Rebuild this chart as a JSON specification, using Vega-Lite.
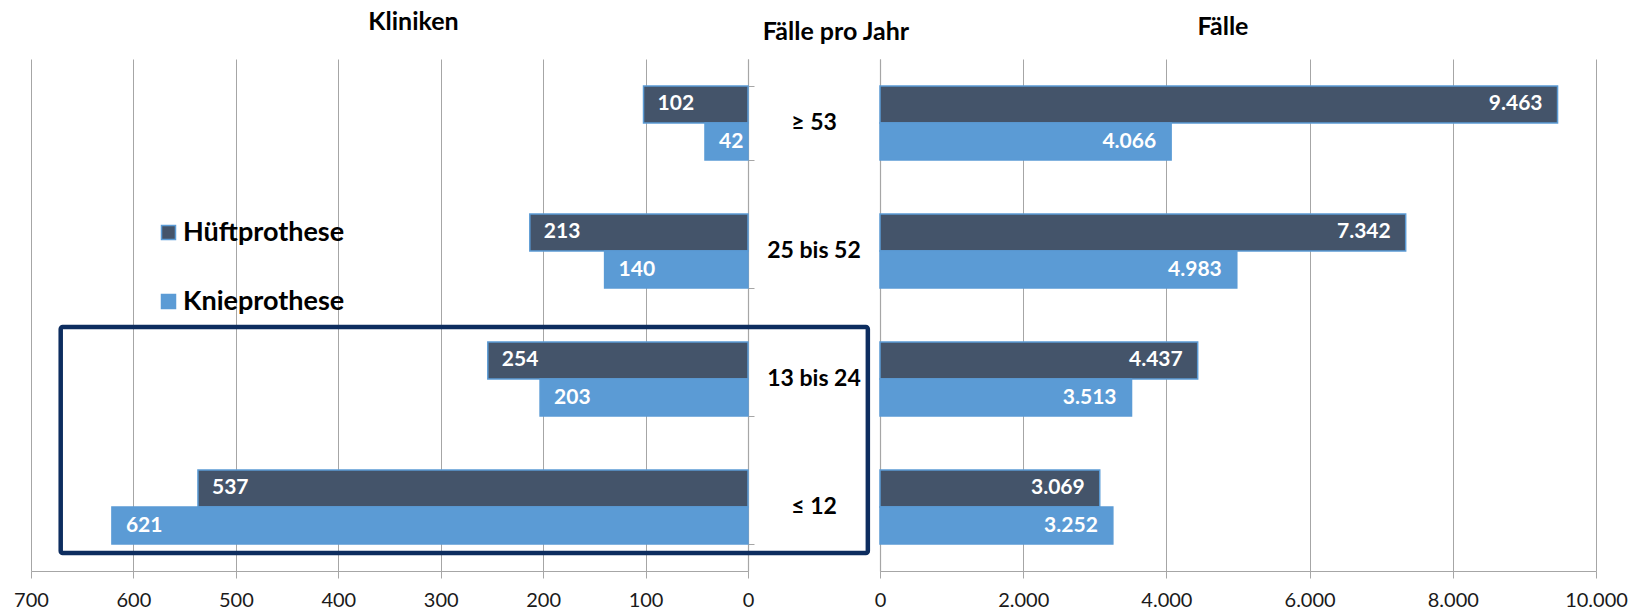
{
  "$schema": "https://vega.github.io/schema/vega-lite/v6.json",
  "padding": {"left": 13, "top": 10, "right": 5, "bottom": 5},
  "bounds": "flush",
  "spacing": 0,
  "config": {
    "locale": {"number": {"decimal": ",", "thousands": ".", "grouping": [3], "currency": ["", " €"]}},
    "font": "Lato",
    "view": {"stroke": null},
    "title": {"font": "Lato", "fontSize": 25, "fontWeight": "bold", "color": "#000000", "anchor": "middle"},
    "axisX": {
      "grid": true, "gridColor": "#a6a6a6", "gridWidth": 1,
      "domainColor": "#a6a6a6", "domainWidth": 1.2,
      "tickColor": "#a6a6a6", "tickSize": 7,
      "labelFont": "Lato", "labelFontSize": 20, "labelColor": "#1a1a1a", "labelPadding": 12,
      "labelFlush": false, "labelOverlap": false, "title": null
    }
  },
  "datasets": {
    "d": [
      {"gruppe": "≥ 53", "art": "Hüftprothese", "kliniken": 102, "faelle": 9463},
      {"gruppe": "≥ 53", "art": "Knieprothese", "kliniken": 42, "faelle": 4066},
      {"gruppe": "25 bis 52", "art": "Hüftprothese", "kliniken": 213, "faelle": 7342},
      {"gruppe": "25 bis 52", "art": "Knieprothese", "kliniken": 140, "faelle": 4983},
      {"gruppe": "13 bis 24", "art": "Hüftprothese", "kliniken": 254, "faelle": 4437},
      {"gruppe": "13 bis 24", "art": "Knieprothese", "kliniken": 203, "faelle": 3513},
      {"gruppe": "≤ 12", "art": "Hüftprothese", "kliniken": 537, "faelle": 3069},
      {"gruppe": "≤ 12", "art": "Knieprothese", "kliniken": 621, "faelle": 3252}
    ],
    "box": [{"von": "13 bis 24", "bis": "≤ 12"}]
  },
  "resolve": {"scale": {"color": "independent"}},
  "hconcat": [
    {
      "width": 717,
      "height": 512,
      "title": {"text": "Kliniken", "offset": 24, "dx": 24},
      "layer": [
        {
          "data": {"name": "d"},
          "mark": {"type": "bar", "stroke": "#5b9bd5", "strokeWidth": 1.5},
          "encoding": {
            "y": {
              "field": "gruppe", "type": "nominal",
              "scale": {"domain": ["≥ 53", "25 bis 52", "13 bis 24", "≤ 12"], "paddingInner": 0.42, "paddingOuter": 0.21},
              "axis": {"orient": "right", "labels": false, "title": null, "tickBand": "extent", "grid": false,
                       "domainColor": "#a6a6a6", "domainWidth": 1.2, "tickColor": "#a6a6a6", "tickSize": 6}
            },
            "yOffset": {"field": "art", "type": "nominal", "scale": {"domain": ["Hüftprothese", "Knieprothese"], "paddingInner": 0, "paddingOuter": 0}},
            "x": {
              "field": "kliniken", "type": "quantitative",
              "scale": {"domain": [0, 700], "reverse": true, "nice": false, "zero": true},
              "axis": {"values": [0, 100, 200, 300, 400, 500, 600, 700], "format": "d"}
            },
            "color": {
              "field": "art", "type": "nominal",
              "scale": {"domain": ["Hüftprothese", "Knieprothese"], "range": ["#44546a", "#5b9bd5"]},
              "legend": {
                "orient": "none", "legendX": 124, "legendY": 160, "title": null, "padding": 0,
                "symbolType": "square", "symbolSize": 196, "symbolStrokeColor": "#5b9bd5", "symbolStrokeWidth": 1.5,
                "labelFont": "Lato", "labelFontSize": 27, "labelFontWeight": "bold", "labelColor": "#000000",
                "labelOffset": 1, "labelLimit": 400, "rowPadding": 41
              }
            }
          }
        },
        {
          "data": {"name": "d"},
          "mark": {"type": "text", "align": "left", "baseline": "middle", "dx": 14, "color": "#ffffff", "fontWeight": "bold", "fontSize": 21, "font": "Lato"},
          "encoding": {
            "y": {"field": "gruppe", "type": "nominal"},
            "yOffset": {"field": "art", "type": "nominal"},
            "x": {"field": "kliniken", "type": "quantitative"},
            "text": {"field": "kliniken", "type": "quantitative", "format": ",d"}
          }
        },
        {
          "data": {"name": "box"},
          "mark": {"type": "rect", "filled": false, "stroke": "#0d2d5f", "strokeWidth": 4.5, "cornerRadius": 2},
          "encoding": {
            "y": {"field": "von", "type": "nominal", "bandPosition": -0.2},
            "y2": {"field": "bis", "bandPosition": 1.12},
            "x": {"datum": 671},
            "x2": {"datum": -117}
          }
        }
      ]
    },
    {
      "width": 132,
      "height": 512,
      "title": {"text": "Fälle pro Jahr", "offset": 14, "dx": 22},
      "data": {"name": "d"},
      "transform": [{"filter": "datum.art == 'Hüftprothese'"}],
      "mark": {"type": "text", "fontWeight": "bold", "fontSize": 23, "font": "Lato", "color": "#000000", "baseline": "middle"},
      "encoding": {
        "y": {
          "field": "gruppe", "type": "nominal",
          "scale": {"domain": ["≥ 53", "25 bis 52", "13 bis 24", "≤ 12"], "paddingInner": 0.42, "paddingOuter": 0.21},
          "axis": null
        },
        "text": {"field": "gruppe", "type": "nominal"}
      }
    },
    {
      "width": 716,
      "height": 512,
      "title": {"text": "Fälle", "offset": 19, "dx": -15},
      "layer": [
        {
          "data": {"name": "d"},
          "mark": {"type": "bar", "stroke": "#5b9bd5", "strokeWidth": 1.5},
          "encoding": {
            "y": {
              "field": "gruppe", "type": "nominal",
              "scale": {"domain": ["≥ 53", "25 bis 52", "13 bis 24", "≤ 12"], "paddingInner": 0.42, "paddingOuter": 0.21},
              "axis": {"orient": "left", "labels": false, "ticks": false, "title": null, "grid": false,
                       "domainColor": "#a6a6a6", "domainWidth": 1.2}
            },
            "yOffset": {"field": "art", "type": "nominal", "scale": {"domain": ["Hüftprothese", "Knieprothese"], "paddingInner": 0, "paddingOuter": 0}},
            "x": {
              "field": "faelle", "type": "quantitative",
              "scale": {"domain": [0, 10000], "nice": false},
              "axis": {"values": [0, 2000, 4000, 6000, 8000, 10000], "format": ",d"}
            },
            "color": {
              "field": "art", "type": "nominal",
              "scale": {"domain": ["Hüftprothese", "Knieprothese"], "range": ["#44546a", "#5b9bd5"]},
              "legend": null
            }
          }
        },
        {
          "data": {"name": "d"},
          "mark": {"type": "text", "align": "right", "baseline": "middle", "dx": -15, "color": "#ffffff", "fontWeight": "bold", "fontSize": 21, "font": "Lato"},
          "encoding": {
            "y": {"field": "gruppe", "type": "nominal"},
            "yOffset": {"field": "art", "type": "nominal"},
            "x": {"field": "faelle", "type": "quantitative"},
            "text": {"field": "faelle", "type": "quantitative", "format": ",d"}
          }
        }
      ]
    }
  ]
}
